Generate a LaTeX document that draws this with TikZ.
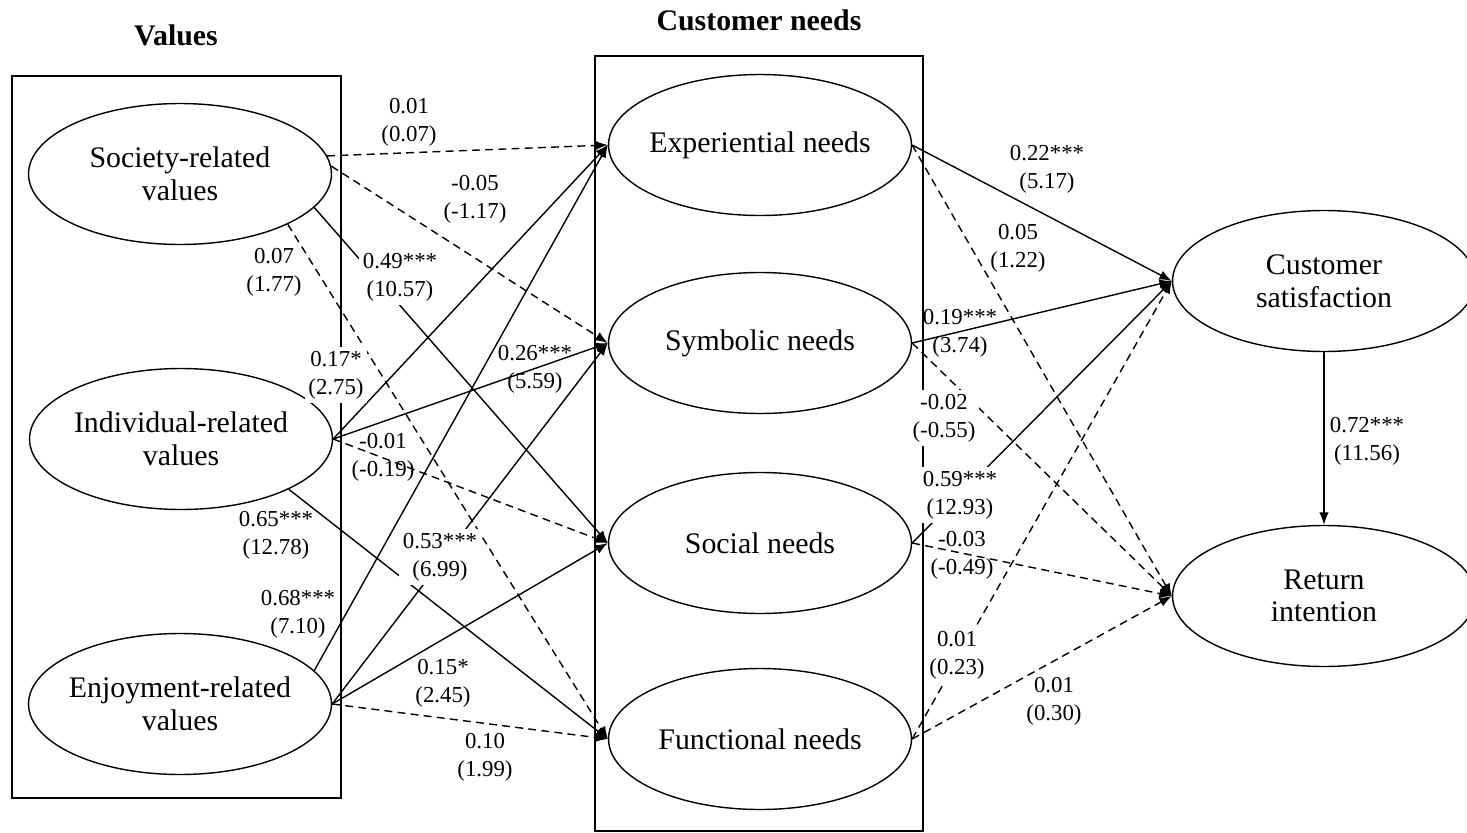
\documentclass[tikz,border=0pt]{standalone}
\usepackage{fontspec}
\setmainfont{Liberation Serif}
\usetikzlibrary{shapes.geometric,arrows.meta}

\begin{document}
\begin{tikzpicture}[x=0.02cm, y=-0.02cm, >={Latex[length=2.5mm,width=1.9mm]},
        var/.style={ellipse, draw, line width=0.8pt, minimum width=6.06cm, minimum height=2.82cm,
            inner xsep=-0.3cm, inner ysep=0pt, align=center, font=\fontsize{17}{18.5}\selectfont},
        coef/.style={align=center, inner sep=1pt, font=\fontsize{13}{16}\selectfont},
        cut/.style={coef, fill=white, inner sep=2pt},
        nsig/.style={dash pattern=on 4.5pt off 3pt},
        title/.style={font=\bfseries\fontsize{17}{20}\selectfont}]
        \useasboundingbox (0,0) rectangle (1467,832);
        \node[title] (valtitle) at (176,35) {Values};
        \node[title] (needtitle) at (759,20) {Customer needs};
        \draw[line width=1.1pt] (12,76) rectangle (341,798);
        \draw[line width=1.1pt] (595,56) rectangle (923,831);
        \node[var] (soc) at (180,174) {Society-related\\values};
        \node[var] (ind) at (181,439) {Individual-related\\values};
        \node[var] (enj) at (180,704) {Enjoyment-related\\values};
        \node[var] (exp) at (760,145) {Experiential needs};
        \node[var] (sym) at (760,343) {Symbolic needs};
        \node[var] (scl) at (760,543) {Social needs};
        \node[var] (fun) at (760,739) {Functional needs};
        \node[var] (sat) at (1324,281) {Customer\\satisfaction};
        \node[var] (ret) at (1324,596) {Return\\intention};
        \draw[->, line width=0.8pt, nsig] (soc.7) -- (exp.west);
        \draw[->, line width=0.8pt, nsig] (soc.3) -- (sym.west);
        \draw[->, line width=0.8pt] (soc.-14) -- (scl.west);
        \draw[->, line width=0.8pt, nsig] (soc.-25) -- (fun.west);
        \draw[->, line width=0.8pt] (ind.east) -- (exp.west);
        \draw[->, line width=0.8pt] (ind.east) -- (sym.west);
        \draw[->, line width=0.8pt, nsig] (ind.east) -- (scl.west);
        \draw[->, line width=0.8pt] (ind.-25) -- (fun.west);
        \draw[->, line width=0.8pt] (enj.14) -- (exp.west);
        \draw[->, line width=0.8pt] (enj.east) -- (sym.west);
        \draw[->, line width=0.8pt] (enj.east) -- (scl.west);
        \draw[->, line width=0.8pt, nsig] (enj.east) -- (fun.west);
        \draw[->, line width=0.8pt] (exp.east) -- (sat.west);
        \draw[->, line width=0.8pt, nsig] (exp.east) -- (ret.west);
        \draw[->, line width=0.8pt] (sym.east) -- (sat.west);
        \draw[->, line width=0.8pt, nsig] (sym.east) -- (ret.west);
        \draw[->, line width=0.8pt] (scl.east) -- (sat.west);
        \draw[->, line width=0.8pt, nsig] (scl.east) -- (ret.west);
        \draw[->, line width=0.8pt, nsig] (fun.east) -- (sat.west);
        \draw[->, line width=0.8pt, nsig] (fun.east) -- (ret.west);
        \draw[->, line width=0.8pt] (sat.south) -- (ret.north);
        \node[coef] (socexp) at (409,122) {0.01\\(0.07)};
        \node[coef] (socsym) at (475,199) {-0.05\\(-1.17)};
        \node[cut] (socscl) at (400,277) {0.49***\\(10.57)};
        \node[coef] (socfun) at (274,272) {0.07\\(1.77)};
        \node[cut] (indexp) at (336,375) {0.17*\\(2.75)};
        \node[coef] (indsym) at (535,369) {0.26***\\(5.59)};
        \node[coef] (indscl) at (383,457) {-0.01\\(-0.19)};
        \node[coef] (indfun) at (276,535) {0.65***\\(12.78)};
        \node[coef] (enjexp) at (298,614) {0.68***\\(7.10)};
        \node[cut] (enjsym) at (440,557) {0.53***\\(6.99)};
        \node[coef] (enjscl) at (443,683) {0.15*\\(2.45)};
        \node[coef] (enjfun) at (485,757) {0.10\\(1.99)};
        \node[coef] (expsat) at (1047,169) {0.22***\\(5.17)};
        \node[coef] (expret) at (1018,248) {0.05\\(1.22)};
        \node[coef] (symsat) at (960,333) {0.19***\\(3.74)};
        \node[cut] (symret) at (944,418) {-0.02\\(-0.55)};
        \node[cut] (sclsat) at (960,495) {0.59***\\(12.93)};
        \node[coef] (sclret) at (962,555) {-0.03\\(-0.49)};
        \node[cut] (funsat) at (957,655) {0.01\\(0.23)};
        \node[coef] (funret) at (1054,701) {0.01\\(0.30)};
        \node[coef] (satret) at (1367,441) {0.72***\\(11.56)};
\end{tikzpicture}
\end{document}
